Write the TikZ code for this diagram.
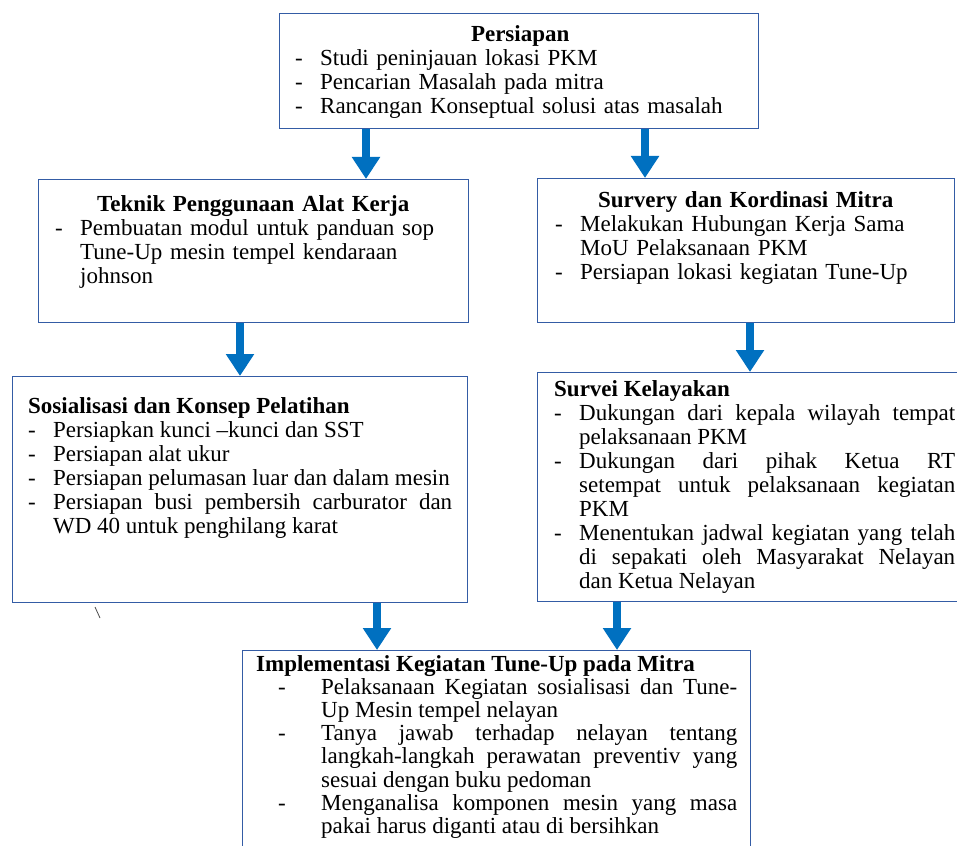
\documentclass[tikz,border=0pt]{standalone}
\usepackage{fontspec}
\setmainfont{Liberation Serif}
\usetikzlibrary{arrows.meta, positioning}
\definecolor{boxblue}{RGB}{52,92,165}
\definecolor{arrblue}{RGB}{0,112,192}
\newlength{\dashgap}
\setlength{\dashgap}{25pt}
\newcommand{\boxtitle}[1]{{\centering\bfseries #1\par}}
\newcommand{\lefttitle}[1]{{\noindent\bfseries #1\par}}
\newcommand{\dashitem}[2][0pt]{\par\noindent\hangindent=\dimexpr#1+\dashgap\relax\hangafter=1\hspace*{#1}\makebox[\dashgap][l]{-}#2\par}
\tikzset{
  stepbox/.style={rectangle, draw=boxblue, line width=1.4pt, anchor=north west, inner sep=0pt},
  boxtext/.style={anchor=base west, inner sep=0pt, align=justify, font=\fontsize{23}{24}\selectfont},
  fatarrow/.style={-{Triangle[width=27pt,length=22pt]}, line width=8pt, color=arrblue}
}

\begin{document}
\begin{tikzpicture}[x=1pt, y=-1pt]
  % page
  \path[use as bounding box, fill=white] (0,0) rectangle (957,845);

  % Persiapan
  \node[stepbox, minimum width=479pt, minimum height=115pt] (prep) at (279,13) {};
  \node[boxtext, text width=450pt, align=left] (prepT) at (295,42) {%
    \boxtitle{Persiapan}
    \dashitem{Studi peninjauan lokasi PKM}
    \dashitem{Pencarian Masalah pada mitra}
    \dashitem{Rancangan Konseptual solusi atas masalah}};

  % Teknik Penggunaan Alat Kerja
  \node[stepbox, minimum width=430pt, minimum height=143pt] (tek) at (38,179) {};
  \node[boxtext, text width=396pt, align=left] (tekT) at (55,211) {%
    \boxtitle{Teknik Penggunaan Alat Kerja}
    \dashitem{Pembuatan modul untuk panduan sop\linebreak Tune-Up mesin tempel kendaraan\linebreak johnson}};

  % Survery dan Kordinasi Mitra
  \node[stepbox, minimum width=417pt, minimum height=144pt] (surv) at (537,178) {};
  \node[boxtext, text width=381pt, align=left] (survT) at (555,207) {%
    \boxtitle{Survery dan Kordinasi Mitra}
    \dashitem{Melakukan Hubungan Kerja Sama\linebreak MoU Pelaksanaan PKM}
    \dashitem{Persiapan lokasi kegiatan Tune-Up}};

  % Sosialisasi dan Konsep Pelatihan
  \node[stepbox, minimum width=455pt, minimum height=226pt] (sos) at (12,376) {};
  \node[boxtext, text width=424pt] (sosT) at (28,413) {%
    \lefttitle{Sosialisasi dan Konsep Pelatihan}
    \dashitem{Persiapkan kunci –kunci dan SST}
    \dashitem{Persiapan alat ukur}
    \dashitem{Persiapan pelumasan luar dan dalam mesin}
    \dashitem{Persiapan busi pembersih carburator dan\linebreak WD 40 untuk penghilang karat}};

  % Survei Kelayakan
  \node[stepbox, minimum width=430pt, minimum height=229pt] (kel) at (537,372) {};
  \node[boxtext, text width=401pt] (kelT) at (554,396) {%
    \lefttitle{Survei Kelayakan}
    \dashitem{Dukungan dari kepala wilayah tempat\linebreak pelaksanaan PKM}
    \dashitem{Dukungan dari pihak Ketua RT\linebreak setempat untuk pelaksanaan kegiatan\linebreak PKM}
    \dashitem{Menentukan jadwal kegiatan yang telah\linebreak di sepakati oleh Masyarakat Nelayan\linebreak dan Ketua Nelayan}};

  % Implementasi
  \node[stepbox, minimum width=508pt, minimum height=205pt] (impl) at (242,650) {};
  \node[boxtext, text width=481pt, font=\fontsize{23}{23.2}\selectfont] (implT) at (256,671) {%
    \setlength{\dashgap}{43pt}%
    \lefttitle{Implementasi Kegiatan Tune-Up pada Mitra}
    \dashitem[22pt]{Pelaksanaan Kegiatan sosialisasi dan Tune-\linebreak Up Mesin tempel nelayan}
    \dashitem[22pt]{Tanya jawab terhadap nelayan tentang\linebreak langkah-langkah perawatan preventiv yang\linebreak sesuai dengan buku pedoman}
    \dashitem[22pt]{Menganalisa komponen mesin yang masa\linebreak pakai harus diganti atau di bersihkan}};

  % arrows
  \coordinate (a1) at (366,0);
  \coordinate (a2) at (645,0);
  \coordinate (a3) at (240,0);
  \coordinate (a4) at (750,0);
  \coordinate (a5) at (377,0);
  \coordinate (a6) at (617,0);
  \draw[fatarrow] (prep.south -| a1) -- (tek.north -| a1);
  \draw[fatarrow] (prep.south -| a2) -- (surv.north -| a2);
  \draw[fatarrow] (tek.south -| a3) -- (sos.north -| a3);
  \draw[fatarrow] (surv.south -| a4) -- (kel.north -| a4);
  \draw[fatarrow] (sos.south -| a5) -- (impl.north -| a5);
  \draw[fatarrow] (kel.south -| a6) -- (impl.north -| a6);

  % stray mark
  \draw[line width=0.8pt, black!70] (95,607) -- (100,618);
\end{tikzpicture}
\end{document}
